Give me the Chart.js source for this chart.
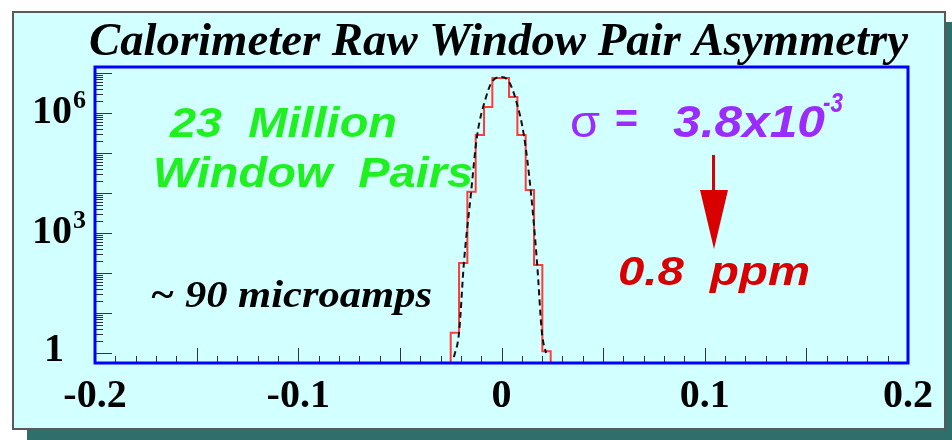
<!DOCTYPE html>
<html><head><meta charset="utf-8">
<script src="https://cdn.jsdelivr.net/npm/chart.js@4.4.1/dist/chart.umd.min.js"></script>
<style>html,body{margin:0;padding:0;background:#fff;}canvas{display:block;}</style>
</head><body>
<canvas id="c" width="952" height="440"></canvas>
<script>
// ---- data ----
const binLeftEdges = [-0.0250, -0.0209, -0.0168, -0.0127, -0.0086, -0.0045, -0.0004, 0.0037, 0.0078, 0.0119, 0.0160, 0.0201];
const binRightEdge = 0.0242;
const binCounts = [3.2, 178, 10700, 282000, 1410000, 7500000, 7500000, 2500000, 280000, 11900, 158, 1.1];
const curveX = [-0.0234, -0.0209, -0.0185, -0.0150, -0.0121, -0.0076, -0.0047, 0.0000, 0.0037, 0.0071, 0.0110, 0.0145, 0.0175, 0.0199, 0.0219];
const curveY = [0.79, 3.16, 178, 10000, 250000, 2500000, 6000000, 7900000, 6000000, 2100000, 280000, 10000, 178, 3.16, 1.0];
const xTickValues = [-0.2, -0.1, 0, 0.1, 0.2];
const xTickLabels = ['-0.2', '-0.1', '0', '0.1', '0.2'];
const yTickValues = [1, 1e3, 1e6];
const yTickBase = ['1', '10', '10'];
const yTickExp = ['', '3', '6'];
const yMin = 0.5623, yMax = 1.41e7;
const xMin = -0.2, xMax = 0.2;

const stepData = [{x: binLeftEdges[0], y: yMin}];
binLeftEdges.forEach((e, i) => stepData.push({x: e, y: binCounts[i]}));
stepData.push({x: binRightEdge, y: yMin});
const curveData = curveX.map((x, i) => ({x: x, y: curveY[i]}));

function fitText(ctx, text, font, color, left, baseline, width) {
  ctx.save();
  ctx.font = font; ctx.fillStyle = color; ctx.textAlign = 'left'; ctx.textBaseline = 'alphabetic';
  const w = ctx.measureText(text).width;
  const sx = width ? width / w : 1;
  ctx.translate(left, baseline); ctx.scale(sx, 1);
  ctx.fillText(text, 0, 0);
  ctx.restore();
}

const deco = {
  id: 'deco',
  beforeDraw(chart) {
    const ctx = chart.ctx;
    ctx.save();
    ctx.fillStyle = '#ffffff'; ctx.fillRect(0, 0, 952, 440);
    ctx.fillStyle = '#2e6e6b'; ctx.fillRect(27, 22, 952 - 27, 440 - 22);
    ctx.fillStyle = '#d2ffff'; ctx.fillRect(13, 12, 932, 417);
    ctx.strokeStyle = '#5a5a5a'; ctx.lineWidth = 2; ctx.strokeRect(13, 12, 932, 417);
    ctx.restore();
  },
  afterDraw(chart) {
    const ctx = chart.ctx, a = chart.chartArea, xs = chart.scales.x, ys = chart.scales.y;
    ctx.save();
    // inner tick marks
    ctx.strokeStyle = '#333'; ctx.lineWidth = 1;
    ctx.beginPath();
    for (let k = -20; k <= 20; k++) {
      const px = Math.round(xs.getPixelForValue(k / 100)) + 0.5;
      const len = (k % 5 === 0) ? 15 : 7;
      ctx.moveTo(px, a.bottom); ctx.lineTo(px, a.bottom - len);
    }
    for (let d = 0; d <= 7; d++) {
      for (let m = 1; m <= 9; m++) {
        const v = m * Math.pow(10, d);
        if (v > yMax) continue;
        const py = Math.round(ys.getPixelForValue(v)) + 0.5;
        const len = m === 1 ? 17 : 8;
        ctx.moveTo(a.left, py); ctx.lineTo(a.left + len, py);
      }
    }
    ctx.stroke();
    // frame
    ctx.strokeStyle = '#0000ff'; ctx.lineWidth = 3;
    ctx.strokeRect(a.left, a.top, a.right - a.left, a.bottom - a.top);
    // y labels
    ctx.fillStyle = '#000'; ctx.textBaseline = 'middle';
    yTickValues.forEach((v, i) => {
      const py = ys.getPixelForValue(v);
      ctx.font = 'bold 40px "Liberation Serif"';
      ctx.textAlign = 'right';
      if (yTickExp[i]) {
        ctx.fillText(yTickBase[i], 72, py);
        ctx.font = 'bold 26px "Liberation Serif"';
        ctx.textAlign = 'left';
        ctx.fillText(yTickExp[i], 73, py - 12);
      } else {
        ctx.fillText(yTickBase[i], 64, py - 2);
      }
    });
    // annotations
    const green = '#1ff01f', purple = '#9a2cff', red = '#d80000';
    fitText(ctx, '23  Million', 'italic bold 43px "Liberation Sans"', green, 170, 137, 227);
    fitText(ctx, 'Window  Pairs', 'italic bold 43px "Liberation Sans"', green, 153, 187, 320);
    fitText(ctx, '~ 90 microamps', 'italic bold 37px "Liberation Serif"', '#000', 150, 307, 282);
    fitText(ctx, 'σ', '44px "Liberation Sans"', purple, 570, 137, 30);
    fitText(ctx, '=', 'bold 42px "Liberation Sans"', purple, 615, 133, 23);
    fitText(ctx, '3.8x10', 'italic bold 44px "Liberation Sans"', purple, 673, 137, 152);
    fitText(ctx, '-3', 'italic bold 28px "Liberation Sans"', purple, 823, 112, 20);
    fitText(ctx, '0.8  ppm', 'italic bold 40px "Liberation Sans"', red, 618, 285, 192);
    // arrow
    ctx.strokeStyle = red; ctx.lineWidth = 3;
    ctx.beginPath(); ctx.moveTo(713.5, 155); ctx.lineTo(713.5, 200); ctx.stroke();
    ctx.fillStyle = red;
    ctx.beginPath(); ctx.moveTo(700, 190); ctx.lineTo(728, 190); ctx.lineTo(714, 249); ctx.closePath(); ctx.fill();
    ctx.restore();
  }
};

new Chart(document.getElementById('c'), {
  type: 'line',
  data: {
    datasets: [
      {
        label: 'Gaussian fit', data: curveData,
        borderColor: '#111', borderWidth: 2, borderDash: [6, 4],
        pointRadius: 0, cubicInterpolationMode: 'monotone', fill: false
      },
      {
        label: 'Asymmetry', data: stepData,
        borderColor: '#ff3b3b', borderWidth: 2, stepped: true,
        pointRadius: 0, fill: false
      }
    ]
  },
  options: {
    responsive: false, animation: false, devicePixelRatio: 1,
    layout: { padding: { left: 89, right: 44, top: 0, bottom: 0 } },
    plugins: {
      legend: { display: false }, tooltip: { enabled: false },
      title: {
        display: true, text: 'Calorimeter Raw Window Pair Asymmetry', color: '#000',
        font: { family: 'Liberation Serif', size: 47, weight: 'bold', style: 'italic', lineHeight: 1 },
        padding: { top: 19, bottom: 1 }
      }
    },
    scales: {
      x: {
        type: 'linear', min: xMin, max: xMax,
        grid: { display: false, drawTicks: false }, border: { display: false },
        afterBuildTicks(s) { s.ticks = xTickValues.map(v => ({ value: v })); },
        afterFit(s) { s.height = 77; },
        ticks: {
          autoSkip: false, maxRotation: 0, padding: 10, color: '#000',
          font: { family: 'Liberation Serif', size: 40, weight: 'bold' },
          callback: (v, i) => xTickLabels[i]
        }
      },
      y: {
        type: 'logarithmic', min: yMin, max: yMax,
        grid: { display: false, drawTicks: false }, border: { display: false },
        ticks: { display: false },
        afterFit(s) { s.width = 6; }
      }
    }
  },
  plugins: [deco]
});
</script>
</body></html>
